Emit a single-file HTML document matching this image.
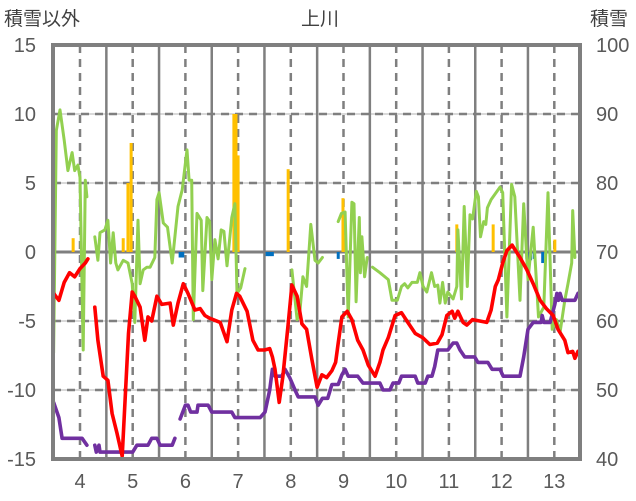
<!DOCTYPE html>
<html><head><meta charset="utf-8"><style>
body{margin:0;background:#fff;}
svg{display:block;font-family:"Liberation Sans","Noto Sans CJK JP",sans-serif;}
</style></head><body>
<svg id="chart" width="636" height="501" viewBox="0 0 636 501">
<text x="320" y="25" text-anchor="middle" font-size="19" fill="#404040">上川</text>
<text x="4" y="25" font-size="19" fill="#404040">積雪以外</text>
<text x="590" y="25" font-size="19" fill="#404040">積雪</text>
<g id="grid"></g>
<g id="bars"></g>
<g id="lines"></g>
<g id="axes"></g>
</svg>
<script>
const xTicks=[4,5,6,7,8,9,10,11,12,13];
const yTicksLeft=[15,10,5,0,-5,-10,-15];
const yTicksRight=[100,90,80,70,60,50,40];
const orangeT=[3.87,4.82,4.91,4.97,6.92,6.96,7.0,7.95,8.99,9.03,11.15,11.84,13.01];
const orangeV=[1,1,5,7.9,10,10,7,6,3.9,1,2,2,0.9];
const blueT=[5.9,5.95,7.55,7.6,7.65,8.9,12.48,12.55,12.62,12.78];
const blueV=[-0.4,-0.4,-0.3,-0.3,-0.3,-0.5,-0.5,-0.6,-0.5,-0.8];
const redT=[3.5,3.6,3.7,3.8,3.9,4.0,4.1,4.15,null,4.28,4.34,4.44,4.53,4.61,4.7,4.8,4.92,4.99,5.04,5.14,5.23,5.29,5.36,5.46,5.55,5.71,5.77,5.86,5.96,6.05,6.18,6.28,6.37,6.46,6.66,6.79,6.88,6.97,7.03,7.17,7.28,7.38,7.5,7.6,7.65,7.7,7.78,7.85,7.95,8.02,8.12,8.21,8.3,8.4,8.5,8.59,8.68,8.78,8.85,8.9,8.97,9.07,9.16,9.27,9.37,9.47,9.6,9.69,9.75,9.85,9.98,10.1,10.22,10.36,10.5,10.64,10.78,10.87,10.96,11.06,11.11,11.17,11.27,11.34,11.45,11.72,11.8,11.88,11.94,12.02,12.1,12.2,12.35,12.48,12.6,12.73,12.85,12.98,13.07,13.2,13.26,13.35,13.39,13.45];
const redV=[-3.0,-3.5,-2.2,-1.5,-1.8,-1.2,-0.8,-0.5,null,-4.0,-6.4,-9.0,-9.3,-11.7,-13.1,-14.8,-5.9,-2.9,-3.2,-4.0,-6.4,-4.7,-5.0,-3.2,-3.8,-3.7,-5.3,-3.7,-2.3,-3.0,-4.2,-4.1,-4.6,-4.8,-5.1,-6.5,-4.2,-3.0,-3.2,-4.3,-6.4,-7.1,-7.1,-7.0,-7.6,-8.5,-10.9,-9.0,-5.2,-2.4,-3.2,-5.2,-5.6,-7.8,-9.8,-8.9,-9.1,-8.6,-8.0,-6.6,-4.7,-4.3,-4.9,-6.4,-7.1,-8.2,-9.0,-8.0,-7.1,-6.2,-4.6,-4.4,-5.1,-5.9,-6.2,-6.7,-6.6,-6.0,-4.6,-4.3,-4.8,-4.3,-5.1,-5.3,-4.9,-5.1,-4.2,-2.5,-2.0,-0.8,0.1,0.5,-0.4,-1.3,-2.3,-3.5,-4.1,-4.6,-5.6,-6.4,-7.3,-7.2,-7.7,-7.2];
const purpleT=[3.5,3.6,3.66,4.04,4.13,null,4.28,4.31,4.36,4.38,5.0,5.08,5.29,5.36,5.46,5.52,5.75,5.8,null,5.9,6.0,6.05,6.1,6.22,6.24,6.43,6.5,6.88,6.94,7.42,7.51,7.6,7.65,7.7,7.83,7.89,7.98,8.08,8.14,8.46,8.52,8.6,8.7,8.78,8.9,8.97,9.03,9.09,9.27,9.37,9.69,9.75,9.88,9.94,10.05,10.1,10.36,10.41,10.55,10.6,10.68,10.73,10.79,10.98,11.08,11.15,11.21,11.3,11.49,11.55,11.74,11.82,11.97,12.03,12.35,12.42,12.5,12.6,12.75,12.77,12.8,12.92,13.01,13.05,13.08,13.11,13.15,13.24,13.39,13.45];
const purpleV=[-10.9,-12.0,-13.5,-13.5,-14.0,null,-14.0,-14.5,-14.0,-14.5,-14.5,-14.0,-14.0,-13.5,-13.5,-14.0,-14.0,-13.5,null,-12.1,-11.1,-11.1,-11.6,-11.6,-11.1,-11.1,-11.6,-11.6,-12.0,-12.0,-11.6,-10.0,-8.5,-9.0,-9.0,-8.5,-9.1,-10.0,-10.5,-10.5,-11.1,-10.6,-10.6,-9.6,-9.6,-8.9,-8.5,-9.0,-9.0,-9.5,-9.5,-10.0,-10.0,-9.5,-9.5,-9.0,-9.0,-9.5,-9.5,-9.0,-9.0,-8.3,-7.1,-7.1,-6.6,-6.6,-7.1,-7.6,-7.6,-8.0,-8.0,-8.5,-8.5,-9.0,-9.0,-7.6,-5.6,-5.1,-5.1,-4.6,-5.1,-5.1,-3.8,-3.0,-3.5,-3.0,-3.5,-3.5,-3.5,-3.0];
const greenT=[3.5,3.55,3.62,3.7,3.77,3.85,3.9,3.96,4.0,4.06,4.1,4.13,null,4.28,4.34,4.38,4.47,4.53,4.58,4.63,4.68,4.72,4.82,4.91,4.99,5.04,5.1,5.14,5.2,5.27,5.33,5.42,5.46,5.5,5.58,5.66,5.75,5.86,5.94,6.03,6.07,6.12,6.15,6.22,6.3,6.33,6.41,6.46,6.5,6.56,6.62,6.68,6.73,6.79,6.88,6.94,6.98,7.05,7.13,null,8.02,8.12,8.17,8.23,8.3,8.38,8.46,8.52,8.6,null,8.9,8.96,9.03,9.09,9.16,9.2,9.24,9.3,9.32,9.35,9.4,9.45,null,9.55,9.69,9.85,9.92,10.02,10.1,10.16,10.22,10.3,10.4,10.45,10.51,10.58,10.67,10.73,10.79,10.83,10.88,10.93,10.98,11.08,11.15,11.17,11.24,11.29,11.35,11.4,11.45,11.52,11.56,11.6,11.66,11.7,11.73,11.8,11.97,12.02,12.1,12.19,12.25,12.35,12.42,12.5,12.6,12.7,12.8,12.88,12.96,13.04,13.11,13.2,13.26,13.33,13.35,13.39];
const greenV=[-7.3,8.8,10.3,8.1,5.9,7.2,5.9,6.3,5.4,-7.1,5.2,4.0,null,1.1,-0.6,1.4,1.6,2.3,-0.8,1.4,-0.8,-1.3,-0.6,-0.8,-2.3,-5.1,2.3,-2.3,-1.3,-1.1,-1.1,-0.4,3.8,4.3,2.1,1.8,-0.8,3.3,4.5,7.4,5.2,5.2,-4.9,2.8,2.3,-2.8,2.5,2.2,-2.0,0.9,-0.5,1.6,1.5,-1.0,2.5,3.5,-3.0,-2.6,-1.2,null,-1.3,-4.9,-4.4,-1.8,-2.5,2.0,-0.6,-0.8,-0.4,null,2.2,2.8,2.9,-4.7,3.6,3.5,-3.6,2.5,-1.5,1.1,-1.8,-0.4,null,-1.1,-1.5,-2.0,-3.5,-3.5,-2.5,-2.3,-2.6,-2.2,-2.2,-1.5,-2.5,-2.9,-1.5,-2.5,-2.4,-3.7,-2.2,-3.7,-2.9,-3.4,-2.5,1.6,-3.4,3.3,-2.5,2.7,2.4,4.4,4.0,1.1,2.2,2.0,3.2,3.8,4.7,4.3,-4.7,4.9,4.0,-3.5,3.5,-2.0,1.8,-4.7,-4.0,4.3,-5.6,-4.9,-5.8,-3.5,-2.3,-0.8,3.0,-0.4];

const NS="http://www.w3.org/2000/svg";
const L=53,R=580,T=45,B=459;
function X(t){return 80+(t-4)*52.7;}
function Y(v){return 252-v*13.8;}
function mk(tag,attrs,parent){const e=document.createElementNS(NS,tag);for(const k in attrs)e.setAttribute(k,attrs[k]);parent.appendChild(e);return e;}
const grid=document.getElementById('grid'),bars=document.getElementById('bars'),lines=document.getElementById('lines'),axes=document.getElementById('axes');
yTicksLeft.forEach(v=>{
  if(v===15||v===-15||v===0)return;
  const y=Y(v);
  const g1=mk('line',{x1:L,x2:R,y1:y,y2:y,stroke:'#d9d9d9','stroke-width':2},grid);
  
  
  const g2=mk('line',{x1:L,x2:R,y1:y,y2:y,stroke:'#7f7f7f','stroke-width':2.5,'stroke-dasharray':'8 6'},grid);
  
  
});
xTicks.forEach(t=>{
  const x=X(t);
  const d=mk('line',{x1:x,x2:x,y1:T,y2:B,stroke:'#7f7f7f','stroke-width':2.5,'stroke-dasharray':'8 6'},grid);
  
  
  const xs=X(t+0.5);
  if(xs<R-2){
    const s=mk('line',{x1:xs,x2:xs,y1:T,y2:B,stroke:'#7f7f7f','stroke-width':2.5},grid);
    
    
  }
});
const z=mk('line',{x1:L,x2:R,y1:Y(0),y2:Y(0),stroke:'#7f7f7f','stroke-width':3},grid);


function drawBars(ts,vs,color,name){
  ts.forEach((t,i)=>{
    const v=vs[i];const y0=Y(0),y1=Y(v);
    const r=mk('rect',{x:X(t)-1.5,y:Math.min(y0,y1),width:3,height:Math.abs(y1-y0),fill:color},bars);
    
    
  });
}
drawBars(orangeT,orangeV,'#ffc000','orange-bar');
drawBars(blueT,blueV,'#0070c0','blue-bar');
function drawLine(ts,vs,color,w,name){
  let d='',pen=false;
  ts.forEach((t,i)=>{
    if(t===null||vs[i]===null){pen=false;return;}
    d+=(pen?'L':'M')+X(t).toFixed(1)+' '+Y(vs[i]).toFixed(1)+' ';pen=true;
  });
  const p=mk('path',{d:d,fill:'none',stroke:color,'stroke-width':w,'stroke-linejoin':'round','stroke-linecap':'round'},lines);
  
  
}
drawLine(greenT,greenV,'#92d050',3,'green-series');
drawLine(purpleT,purpleV,'#7030a0',3.6,'purple-series');
drawLine(redT,redV,'#ff0000',3.6,'red-series');
const f=mk('rect',{x:L,y:T,width:R-L,height:B-T,fill:'none',stroke:'#7f7f7f','stroke-width':4},axes);


yTicksLeft.forEach(v=>{
  const t=mk('text',{x:36,y:Y(v)+7,'text-anchor':'end','font-size':20,fill:'#595959'},axes);
  t.textContent=v;
  
  
});
yTicksRight.forEach((v,i)=>{
  const t=mk('text',{x:596,y:Y(yTicksLeft[i])+7,'font-size':20,fill:'#595959'},axes);
  t.textContent=v;
  
  
});
xTicks.forEach(m=>{
  const t=mk('text',{x:X(m),y:488,'text-anchor':'middle','font-size':20,fill:'#595959'},axes);
  t.textContent=m;
  
  
});
</script>
</body></html>
